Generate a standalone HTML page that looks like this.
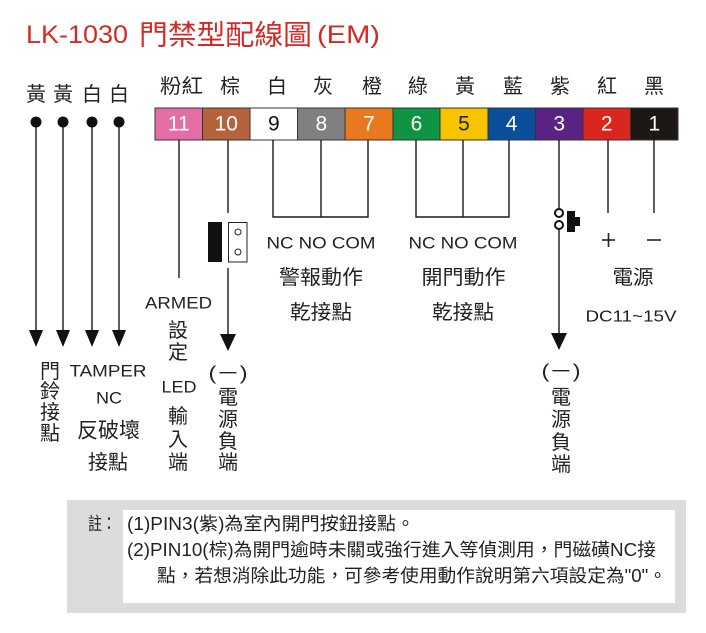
<!DOCTYPE html>
<html><head><meta charset="utf-8"><style>
html,body{margin:0;padding:0;background:#fff;}
svg{display:block;}
text{font-family:"Liberation Sans","Noto Sans CJK TC",sans-serif;}
</style></head><body>
<svg width="706" height="633" viewBox="0 0 706 633" xmlns="http://www.w3.org/2000/svg">
<rect width="706" height="633" fill="#fff"/>
<!-- Title -->
<g fill="#d32a26" dominant-baseline="central">
<text x="26" y="35" font-size="25" textLength="102" lengthAdjust="spacingAndGlyphs">LK-1030</text>
<text x="139" y="35" font-size="28" textLength="173" lengthAdjust="spacingAndGlyphs">門禁型配線圖</text>
<text x="317" y="35" font-size="25" textLength="63" lengthAdjust="spacingAndGlyphs">(EM)</text>
</g>
<!-- top labels -->
<g fill="#222" font-size="20" text-anchor="middle" dominant-baseline="central">
<text x="36" y="95">黃</text><text x="63" y="95">黃</text><text x="92" y="95">白</text><text x="119" y="95">白</text>
<text x="181.5" y="87" textLength="43" lengthAdjust="spacingAndGlyphs">粉紅</text>
<text x="230" y="87">棕</text><text x="277" y="87">白</text><text x="323" y="87">灰</text><text x="372" y="87">橙</text>
<text x="418" y="87">綠</text><text x="465" y="87">黃</text><text x="513" y="87">藍</text><text x="560" y="87">紫</text>
<text x="607" y="87">紅</text><text x="654" y="87">黑</text>
</g>
<!-- pin bar -->
<g stroke="#333" stroke-width="1">
<rect x="155" y="108" width="47.5" height="32" fill="#e46fa6"/>
<rect x="202.5" y="108" width="47.5" height="32" fill="#b4643c"/>
<rect x="250" y="108" width="47.5" height="32" fill="#ffffff"/>
<rect x="297.5" y="108" width="47.5" height="32" fill="#808080"/>
<rect x="345" y="108" width="48" height="32" fill="#e8791e"/>
<rect x="393" y="108" width="47" height="32" fill="#0f9444"/>
<rect x="440" y="108" width="48" height="32" fill="#f8c400"/>
<rect x="488" y="108" width="47.5" height="32" fill="#0b4f9c"/>
<rect x="535.5" y="108" width="47.5" height="32" fill="#5a2383"/>
<rect x="583" y="108" width="47.5" height="32" fill="#d92720"/>
<rect x="630.5" y="108" width="47.5" height="32" fill="#1d1715"/>
</g>
<g font-size="21" text-anchor="middle" dominant-baseline="central" fill="#fff">
<text x="178.8" y="124">11</text><text x="226.3" y="124">10</text>
<text x="273.9" y="124" fill="#111">9</text><text x="321.4" y="124">8</text>
<text x="369" y="124">7</text><text x="416.5" y="124">6</text>
<text x="464" y="124" fill="#2a2000">5</text><text x="511.6" y="124">4</text>
<text x="559.2" y="124">3</text><text x="606.7" y="124">2</text>
<text x="654.3" y="124">1</text>
</g>
<!-- left lines with dots and arrows -->
<g stroke="#1a1a1a" stroke-width="1.4" fill="none">
<line x1="36" y1="122" x2="36" y2="332"/>
<line x1="63" y1="122" x2="63" y2="332"/>
<line x1="92" y1="122" x2="92" y2="332"/>
<line x1="119" y1="122" x2="119" y2="332"/>
<!-- pin 11 -->
<line x1="179" y1="140" x2="179" y2="278"/>
<!-- pin 10 -->
<line x1="228" y1="140" x2="228" y2="213"/>
<line x1="228" y1="268" x2="228" y2="336"/>
<!-- relays -->
<polyline points="273,140 273,217 368,217 368,140"/>
<line x1="321" y1="140" x2="321" y2="217"/>
<polyline points="416,140 416,217 509,217 509,140"/>
<line x1="463" y1="140" x2="463" y2="217"/>
<!-- pin 3 -->
<line x1="559" y1="140" x2="559" y2="209"/>
<line x1="559" y1="229" x2="559" y2="335"/>
<!-- pins 2,1 -->
<line x1="608" y1="140" x2="608" y2="213"/>
<line x1="654" y1="140" x2="654" y2="213"/>
</g>
<g fill="#111">
<circle cx="36" cy="122" r="5.5"/><circle cx="63" cy="122" r="5.5"/>
<circle cx="92" cy="122" r="5.5"/><circle cx="119" cy="122" r="5.5"/>
<polygon points="29,330 43,330 36,347"/>
<polygon points="56,330 70,330 63,347"/>
<polygon points="85,330 99,330 92,347"/>
<polygon points="112,330 126,330 119,347"/>
<polygon points="220,334 236,334 228,351"/>
<polygon points="551,333 567,333 559,350"/>
<!-- jumper -->
<rect x="208" y="222" width="14" height="40"/>
<!-- push button -->
<rect x="567" y="211" width="8" height="21"/>
<rect x="574" y="217" width="6" height="9"/>
</g>
<rect x="228.5" y="222.5" width="18.5" height="39.5" fill="#fff" stroke="#222" stroke-width="1"/>
<circle cx="238" cy="232" r="3" fill="#fff" stroke="#222" stroke-width="1"/>
<circle cx="238" cy="252" r="3" fill="#fff" stroke="#222" stroke-width="1"/>
<circle cx="559" cy="213" r="4" fill="#fff" stroke="#111" stroke-width="2"/>
<circle cx="559" cy="225" r="4" fill="#fff" stroke="#111" stroke-width="2"/>
<!-- + and - -->
<g stroke="#222" stroke-width="1.6">
<line x1="602" y1="240" x2="615" y2="240"/>
<line x1="608.5" y1="233" x2="608.5" y2="247"/>
<line x1="647" y1="240" x2="661" y2="240"/>
</g>
<!-- labels -->
<g fill="#222" text-anchor="middle" dominant-baseline="central">
<text x="321" y="243" font-size="17" textLength="109" lengthAdjust="spacingAndGlyphs">NC NO COM</text>
<text x="463" y="243" font-size="17" textLength="109" lengthAdjust="spacingAndGlyphs">NC NO COM</text>
<text x="321" y="278" font-size="20" textLength="84" lengthAdjust="spacingAndGlyphs">警報動作</text>
<text x="321" y="313" font-size="20" textLength="62" lengthAdjust="spacingAndGlyphs">乾接點</text>
<text x="463.5" y="278" font-size="20" textLength="84" lengthAdjust="spacingAndGlyphs">開門動作</text>
<text x="463" y="313" font-size="20" textLength="62" lengthAdjust="spacingAndGlyphs">乾接點</text>
<text x="633" y="278" font-size="20" textLength="41" lengthAdjust="spacingAndGlyphs">電源</text>
<text x="631" y="317" font-size="16" textLength="91" lengthAdjust="spacingAndGlyphs">DC11~15V</text>

<text x="178.5" y="303" font-size="17" textLength="67" lengthAdjust="spacingAndGlyphs">ARMED</text>
<text x="178" y="331" font-size="20">設</text>
<text x="178" y="353" font-size="20">定</text>
<text x="179" y="387" font-size="17" textLength="35" lengthAdjust="spacingAndGlyphs">LED</text>
<text x="178" y="417" font-size="20">輸</text>
<text x="178" y="440" font-size="20">入</text>
<text x="178" y="463" font-size="20">端</text>

<text x="228" y="374" font-size="19" textLength="39" lengthAdjust="spacingAndGlyphs">(－)</text>
<text x="228" y="398" font-size="20">電</text>
<text x="228" y="420" font-size="20">源</text>
<text x="228" y="442" font-size="20">負</text>
<text x="228" y="463" font-size="20">端</text>

<text x="50" y="372" font-size="20">門</text>
<text x="50" y="392" font-size="20">鈴</text>
<text x="50" y="413" font-size="20">接</text>
<text x="50" y="434" font-size="20">點</text>
<text x="108" y="371" font-size="17" textLength="77" lengthAdjust="spacingAndGlyphs">TAMPER</text>
<text x="109" y="398" font-size="17" textLength="26" lengthAdjust="spacingAndGlyphs">NC</text>
<text x="108.5" y="431" font-size="21" textLength="63" lengthAdjust="spacingAndGlyphs">反破壞</text>
<text x="108" y="463" font-size="20" textLength="40" lengthAdjust="spacingAndGlyphs">接點</text>

<text x="561" y="372" font-size="19" textLength="39" lengthAdjust="spacingAndGlyphs">(－)</text>
<text x="561" y="398" font-size="20">電</text>
<text x="561" y="420" font-size="20">源</text>
<text x="561" y="443" font-size="20">負</text>
<text x="561" y="465" font-size="20">端</text>
</g>
<!-- notes -->
<rect x="67" y="500" width="619" height="113" fill="#dcdcdc"/>
<rect x="123" y="510" width="552" height="93" fill="#fff"/>
<g fill="#222" font-size="18" dominant-baseline="central">
<text x="88" y="524" textLength="28" lengthAdjust="spacingAndGlyphs">註：</text>
<text x="127" y="524" textLength="288" lengthAdjust="spacingAndGlyphs">(1)PIN3(紫)為室內開門按鈕接點。</text>
<text x="127" y="550" textLength="529" lengthAdjust="spacingAndGlyphs">(2)PIN10(棕)為開門逾時未關或強行進入等偵測用，門磁磺NC接</text>
<text x="157" y="576" textLength="510" lengthAdjust="spacingAndGlyphs">點，若想消除此功能，可參考使用動作說明第六項設定為"0"。</text>
</g>
</svg>
</body></html>
